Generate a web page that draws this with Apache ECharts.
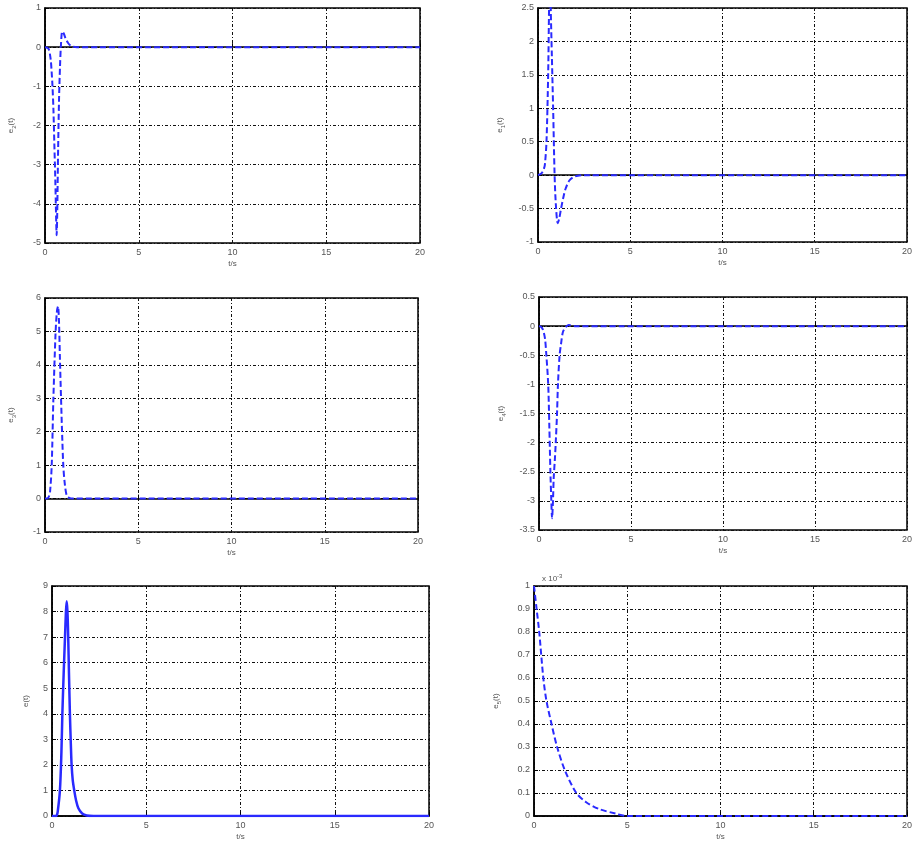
<!DOCTYPE html>
<html><head><meta charset="utf-8">
<script src="https://cdn.jsdelivr.net/npm/echarts@6/dist/echarts.min.js"></script>
<style>html,body{margin:0;padding:0;background:#fff}#c{width:915px;height:842px}</style>
</head><body><div id="c"></div>
<script>
// ---- data ----
const xTicks = [0, 5, 10, 15, 20];
// panel 1: e2(t)
const t1 = [0,0.1,0.2,0.3,0.35,0.4,0.45,0.5,0.55,0.6,0.62,0.65,0.7,0.75,0.8,0.85,0.92,1.0,1.1,1.24,1.4,1.7,20];
const e2 = [0,-0.01,-0.05,-0.3,-0.6,-1.0,-1.6,-2.5,-3.4,-4.5,-4.8,-4.3,-2.6,-1.3,-0.5,0.05,0.4,0.35,0.22,0.1,0.03,0,0];
// panel 2: e1(t)
const t2 = [0,0.1,0.2,0.3,0.37,0.46,0.55,0.6,0.65,0.69,0.75,0.82,0.9,0.97,1.07,1.15,1.25,1.4,1.5,1.7,2.0,2.5,20];
const e1 = [0,0.01,0.03,0.08,0.15,0.5,1.5,2.5,3.2,2.5,1.8,1.0,0,-0.45,-0.72,-0.65,-0.5,-0.3,-0.2,-0.08,-0.02,0,0];
// panel 3: e3(t)
const t3 = [0,0.1,0.2,0.27,0.36,0.45,0.57,0.64,0.7,0.75,0.8,0.86,0.92,0.98,1.05,1.16,1.3,1.5,20];
const e3 = [0,0,0.05,0.2,1.0,3.0,5.0,5.6,5.75,5.3,4.2,3.0,1.9,1.0,0.5,0.1,0.02,0,0];
// panel 4: e4(t)
const t4 = [0,0.1,0.2,0.32,0.4,0.5,0.56,0.62,0.67,0.71,0.76,0.8,0.86,0.91,0.98,1.03,1.12,1.2,1.3,1.45,1.6,2,20];
const e4 = [0,-0.01,-0.05,-0.2,-0.5,-1.0,-1.7,-2.5,-3.0,-3.3,-3.0,-2.6,-2.3,-2.0,-1.5,-1.0,-0.5,-0.3,-0.1,-0.02,0.02,0,0];
// panel 5: e(t)
const t5 = [0,0.2,0.25,0.3,0.42,0.5,0.55,0.62,0.69,0.74,0.78,0.82,0.86,0.9,0.95,1.0,1.04,1.1,1.18,1.28,1.4,1.6,1.84,2.2,20];
const e0 = [0,0,0.02,0.15,1.0,2.5,4.0,5.6,7.0,8.0,8.4,8.0,7.0,5.6,4.0,2.8,2.0,1.4,1.0,0.6,0.3,0.1,0.02,0,0];
// panel 6: e5(t), in units of 1e-3
const t6 = [0,0.14,0.28,0.5,0.67,0.94,1.24,1.65,2.27,2.8,3.5,4.4,5,20];
const e5 = [1,0.9,0.8,0.6,0.5,0.4,0.3,0.2,0.1,0.06,0.03,0.01,0,0];

const yRanges = [
  {min:-5, max:1, interval:1},
  {min:-1, max:2.5, interval:0.5},
  {min:-1, max:6, interval:1},
  {min:-3.5, max:0.5, interval:0.5},
  {min:0, max:9, interval:1},
  {min:0, max:1, interval:0.1}
];
const yNames = [['e','2'],['e','1'],['e','3'],['e','4'],['e',''],['e','5']];
const seriesT = [t1,t2,t3,t4,t5,t6];
const seriesV = [e2,e1,e3,e4,e0,e5];
const solid = [false,false,false,false,true,false];

// ---- layout ----
const grids = [
  {left:45, top:8, width:375, height:235},
  {left:538, top:8, width:375, height:234},
  {left:45, top:298, width:373, height:234},
  {left:539, top:297, width:374, height:233},
  {left:52, top:586, width:377, height:234},
  {left:534, top:586, width:376, height:234}
];

const gridLine = {show:true, lineStyle:{color:'#111', width:1, type:[3,2,1,2]}};
const labelStyle = {color:'#555', fontSize:9, fontFamily:'Liberation Sans, Arial, sans-serif'};

const option = {
  backgroundColor:'#fff',
  animation:false,
  grid: grids.map(g => Object.assign({show:true, borderColor:'#000', borderWidth:1.5, backgroundColor:'transparent'}, g)),
  xAxis: grids.map((g,i) => ({
    type:'value', gridIndex:i, min:0, max:20, interval:5,
    name:'t/s', nameLocation:'middle', nameGap:17,
    nameTextStyle:{color:'#555', fontSize:8, fontFamily:'Liberation Sans, Arial, sans-serif'},
    axisLine:{show:true, lineStyle:{color:'#000', width:1.5}},
    axisTick:{show:true, inside:true, length:4, lineStyle:{color:'#000'}},
    axisLabel:Object.assign({margin:5, formatter:v => xTicks.includes(v) ? String(v) : ''}, labelStyle),
    splitLine:gridLine
  })),
  yAxis: grids.map((g,i) => ({
    type:'value', gridIndex:i,
    min:yRanges[i].min, max:yRanges[i].max, interval:yRanges[i].interval,
    name:'{b|' + yNames[i][0] + '}' + (yNames[i][1] ? '{s|' + yNames[i][1] + '}' : '') + '{b|(t)}',
    nameLocation:'middle', nameGap: i===0||i===2 ? 28 : (i===4 ? 22 : 32),
    nameRotate:90,
    nameTextStyle:{rich:{
      b:{color:'#555', fontSize:8, fontFamily:'Liberation Sans, Arial, sans-serif'},
      s:{color:'#555', fontSize:6, fontFamily:'Liberation Sans, Arial, sans-serif', padding:[6,0,0,0]}
    }},
    axisLine:{show:true, lineStyle:{color:'#000', width:1.5}},
    axisTick:{show:true, inside:true, length:4, lineStyle:{color:'#000'}},
    axisLabel:Object.assign({margin:4, formatter:v => String(Math.round(v*10)/10)}, labelStyle),
    splitLine:gridLine
  })),
  series: seriesT.map((ts,i) => ({
    type:'line', xAxisIndex:i, yAxisIndex:i,
    data: ts.map((t,k) => [t, seriesV[i][k]]),
    showSymbol:false, smooth:0.3, clip:true,
    lineStyle:{color:'#2a2aff', width: solid[i] ? 2.5 : 2, type: solid[i] ? 'solid' : [6,3]},
    z:3
  })),
  graphic:[
    {type:'text', left:542, top:573, style:{
      text:'x 10{sup|-3}', fill:'#555', fontSize:8, fontFamily:'Liberation Sans, Arial, sans-serif',
      rich:{sup:{fontSize:6, fill:'#555', padding:[0,0,6,0]}}
    }}
  ]
};
echarts.init(document.getElementById('c')).setOption(option);
</script>
</body></html>
